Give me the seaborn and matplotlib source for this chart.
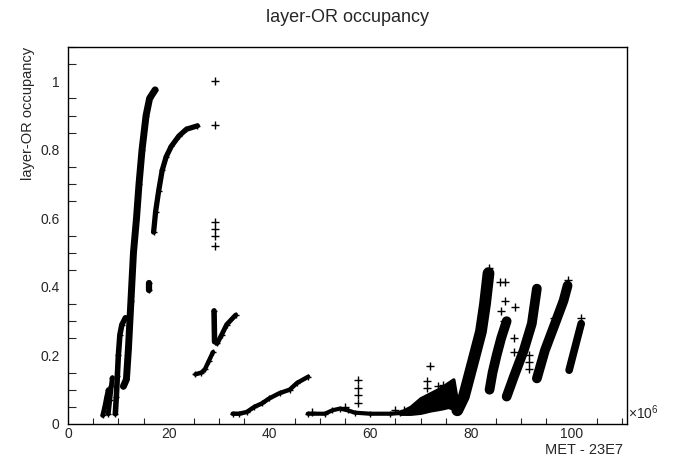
import numpy as np
import pandas as pd
import matplotlib
matplotlib.use('Agg')
import matplotlib.pyplot as plt
from matplotlib.ticker import MultipleLocator
import seaborn as sns

# tracks of layer-OR occupancy vs MET - 23E7 (x in units of 1e6 s)
a1_x = [6.9, 7.3, 7.7, 8.0]
a1_y = [0.025, 0.05, 0.08, 0.10]
a2_x = [8.0, 8.3, 8.6, 8.8]
a2_y = [0.03, 0.07, 0.11, 0.135]
b_x = [9.4, 9.6, 9.8, 10.0, 10.3, 10.7, 11.4]
b_y = [0.03, 0.08, 0.14, 0.20, 0.26, 0.29, 0.31]
c_x = [11.0, 11.6, 12.0, 12.5, 13.0, 13.6, 14.1, 14.7, 15.5, 16.2, 17.3]
c_y = [0.11, 0.13, 0.22, 0.36, 0.50, 0.60, 0.70, 0.80, 0.90, 0.95, 0.975]
d_x = [16.0, 16.0]
d_y = [0.39, 0.41]
e_x = [17.0, 17.4, 18.0, 18.7, 19.5, 20.5, 22.0, 23.5, 25.7]
e_y = [0.56, 0.62, 0.68, 0.74, 0.78, 0.81, 0.84, 0.86, 0.87]
g1_x = [25.3, 26.5, 27.2, 28.0, 28.8]
g1_y = [0.145, 0.15, 0.16, 0.185, 0.21]
g2_x = [29.0, 29.1]
g2_y = [0.33, 0.24]
g3_x = [29.6, 30.5, 31.5, 33.3]
g3_y = [0.235, 0.26, 0.29, 0.318]
h_x = [32.7, 34.0, 35.5, 37.0, 38.5, 40.0, 42.0, 44.0, 45.5, 47.7]
h_y = [0.03, 0.03, 0.035, 0.05, 0.06, 0.075, 0.09, 0.10, 0.12, 0.138]
base_x = [47.6, 51.0, 52.5, 54.0, 55.5, 57.0, 60.0, 64.0, 66.0]
base_y = [0.03, 0.03, 0.04, 0.045, 0.04, 0.033, 0.03, 0.03, 0.032]
clus_x = [66.0, 68.0, 70.0, 72.0, 74.0, 75.5, 76.5, 77.3]
clus_lo = [0.03, 0.03, 0.033, 0.04, 0.045, 0.05, 0.045, 0.03]
clus_hi = [0.035, 0.05, 0.075, 0.09, 0.105, 0.12, 0.13, 0.06]
band1_x = [77.3, 78.6, 80.4, 82.0, 82.8, 83.5]
band1_y = [0.04, 0.08, 0.18, 0.27, 0.35, 0.44]
band2_x = [83.7, 84.3, 85.1, 86.0, 87.1]
band2_y = [0.10, 0.15, 0.20, 0.25, 0.30]
band3_x = [87.1, 88.5, 90.5, 92.1, 93.1]
band3_y = [0.08, 0.137, 0.215, 0.293, 0.395]
band4_x = [93.1, 94.7, 96.7, 98.4, 99.2]
band4_y = [0.133, 0.215, 0.293, 0.36, 0.404]
band5_x = [99.5, 100.7, 101.9]
band5_y = [0.157, 0.225, 0.293]

# isolated points
pt_x = [29.1, 29.1, 29.1, 29.1, 29.1, 29.1, 57.6, 57.6, 57.6, 57.6, 65.0, 66.8,
        71.8, 71.2, 71.2, 73.5, 74.5, 75.5, 85.7, 86.7, 88.7, 86.0, 86.8, 86.5,
        88.5, 88.5, 91.5, 91.5, 91.5, 96.5, 99.3, 101.9, 83.5, 48.5, 55.0]
pt_y = [1.0, 0.872, 0.59, 0.57, 0.55, 0.52, 0.128, 0.105, 0.085, 0.06, 0.042, 0.042,
        0.17, 0.125, 0.105, 0.11, 0.115, 0.11, 0.413, 0.413, 0.34, 0.33, 0.36, 0.30,
        0.25, 0.21, 0.20, 0.18, 0.16, 0.31, 0.42, 0.31, 0.455, 0.035, 0.05]

thin = [(a1_x, a1_y, 3.5), (a2_x, a2_y, 3.5), (b_x, b_y, 4.0), (c_x, c_y, 5.0),
        (d_x, d_y, 4.5), (e_x, e_y, 3.8), (g1_x, g1_y, 3.2), (g2_x, g2_y, 4.0),
        (g3_x, g3_y, 3.5), (h_x, h_y, 3.2), (base_x, base_y, 3.0)]
thick = [(band1_x, band1_y, 8.5), (band2_x, band2_y, 7.0), (band3_x, band3_y, 7.0),
         (band4_x, band4_y, 7.0), (band5_x, band5_y, 5.5)]

sns.set_style('white')
plt.rcParams['font.family'] = ['Liberation Sans', 'DejaVu Sans']
plt.rcParams['mathtext.fontset'] = 'custom'
plt.rcParams['mathtext.rm'] = 'Liberation Sans'

fig = plt.figure(figsize=(6.96, 4.72), dpi=100)
ax = fig.add_axes([0.0977, 0.1017, 0.8032, 0.7987])

for xs, ys, lw in thin + thick:
    seg = pd.DataFrame({'x': xs, 'y': ys})
    sns.lineplot(data=seg, x='x', y='y', sort=False, estimator=None,
                 color='black', lw=lw, solid_capstyle='round', ax=ax)
    sns.scatterplot(data=seg, x='x', y='y', marker='+', s=25, color='black',
                    linewidth=1, ax=ax)

ax.fill_between(clus_x, clus_lo, clus_hi, color='black', lw=2.5)

pts = pd.DataFrame({'x': pt_x, 'y': pt_y})
sns.scatterplot(data=pts, x='x', y='y', marker='+', s=30, color='black',
                linewidth=1, ax=ax)

ax.set_xlim(0, 111)
ax.set_ylim(0, 1.1)
ax.xaxis.set_major_locator(MultipleLocator(20))
ax.xaxis.set_minor_locator(MultipleLocator(5))
ax.set_yticks([0, 0.2, 0.4, 0.6, 0.8, 1.0])
ax.set_yticklabels(['0', '0.2', '0.4', '0.6', '0.8', '1'])
ax.yaxis.set_minor_locator(MultipleLocator(0.05))
ax.tick_params(axis='x', which='major', direction='in', length=8, width=0.8,
               labelsize=10, pad=2, top=False)
ax.tick_params(axis='x', which='minor', direction='in', length=4, width=0.8,
               top=False, bottom=True)
ax.tick_params(axis='y', which='major', direction='in', length=12.5, width=0.8,
               labelsize=10, pad=6, right=False)
ax.tick_params(axis='y', which='minor', direction='in', length=6, width=0.8,
               right=False, left=True)
for sp in ax.spines.values():
    sp.set_color('black')
    sp.set_linewidth(1)

ax.set_xlabel('MET - 23E7', loc='right', fontsize=10.5)
ax.xaxis.set_label_coords(0.993, -0.05)
ax.xaxis.label.set_va('top')
ax.set_ylabel('layer-OR occupancy', loc='top', fontsize=10.5)
ax.yaxis.set_label_coords(-0.059, 1.0)
ax.text(1.002, 0.005, r'$\times10^{6}$', transform=ax.transAxes,
        ha='left', va='bottom', fontsize=10)
fig.text(0.5, 1 - 9 / 472, 'layer-OR occupancy', ha='center', va='top',
         fontsize=13)

fig.savefig('out.png', dpi=100)
